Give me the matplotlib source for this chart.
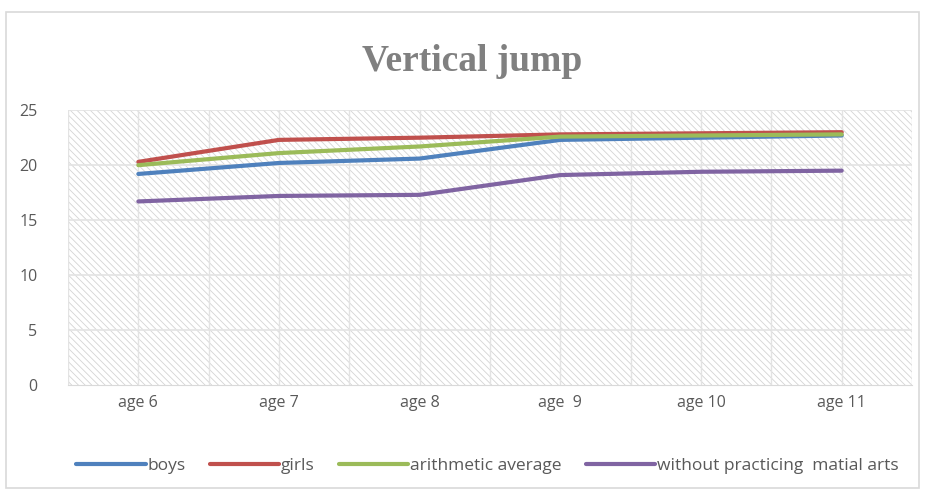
import numpy as np
import matplotlib.pyplot as plt
from matplotlib.patches import Rectangle

# data
ages = ['age 6', 'age 7', 'age 8', 'age  9', 'age 10', 'age 11']
boys = [19.2, 20.2, 20.6, 22.3, 22.5, 22.7]
girls = [20.3, 22.3, 22.5, 22.8, 22.9, 23.0]
average = [20.0, 21.1, 21.7, 22.6, 22.7, 22.8]
without = [16.7, 17.2, 17.3, 19.1, 19.4, 19.5]

plt.rcParams['font.family'] = ['Open Sans', 'DejaVu Sans']
plt.rcParams['hatch.linewidth'] = 0.6
plt.rcParams['hatch.color'] = '#d4d4d4'

fig = plt.figure(figsize=(9.25, 4.92), dpi=100)
# outer chart border
fig.patches.append(Rectangle((0.006, 0.008), 0.988, 0.968, transform=fig.transFigure,
                             fill=False, edgecolor='#d9d9d9', linewidth=1.2))

ax = fig.add_axes([0.0735, 0.2175, 0.9125, 0.5585])
x = np.arange(len(ages))

# patterned plot area
ax.add_patch(Rectangle((0, 0), 1, 1, transform=ax.transAxes, facecolor='white',
                       edgecolor='#d4d4d4', hatch='\\\\\\\\\\', linewidth=0, zorder=0))

for v in np.arange(-0.5, 6.0, 0.5):
    ax.axvline(v, color='#e3e3e3', linewidth=1, zorder=1)
for yv in [5, 10, 15, 20, 25]:
    ax.axhline(yv, color='#e3e3e3', linewidth=1.2, zorder=1)

ax.plot(x, boys, color='#4f81bd', linewidth=3, label='boys', zorder=3, solid_capstyle='round')
ax.plot(x, girls, color='#c0504d', linewidth=3, label='girls', zorder=3, solid_capstyle='round')
ax.plot(x, average, color='#9bbb59', linewidth=3, label='arithmetic average', zorder=3, solid_capstyle='round')
ax.plot(x, without, color='#8064a2', linewidth=3, label='without practicing  matial arts', zorder=3,
        solid_capstyle='round')

ax.set_xlim(-0.5, 5.5)
ax.set_ylim(0, 25)
ax.set_yticks([0, 5, 10, 15, 20, 25])
ax.set_xticks(x)
ax.set_xticklabels(ages)
ax.tick_params(length=0, labelsize=11.5, colors='#595959', pad=7)
ax.tick_params(axis='y', pad=22)
for s in ['top', 'right', 'left']:
    ax.spines[s].set_visible(False)
ax.spines['bottom'].set_color('#d9d9d9')
ax.spines['bottom'].set_zorder(2)

fig.text(0.51, 0.875, 'Vertical jump', ha='center', va='center', fontsize=27,
         fontweight='bold', color='#808080', family='Liberation Serif')

fig.legend(loc='center', bbox_to_anchor=(0.527, 0.052), ncol=4, frameon=False, fontsize=12.5,
           handlelength=4.0, handletextpad=0.1, columnspacing=1.4, labelcolor='#595959')

plt.savefig('out.png', dpi=100)
